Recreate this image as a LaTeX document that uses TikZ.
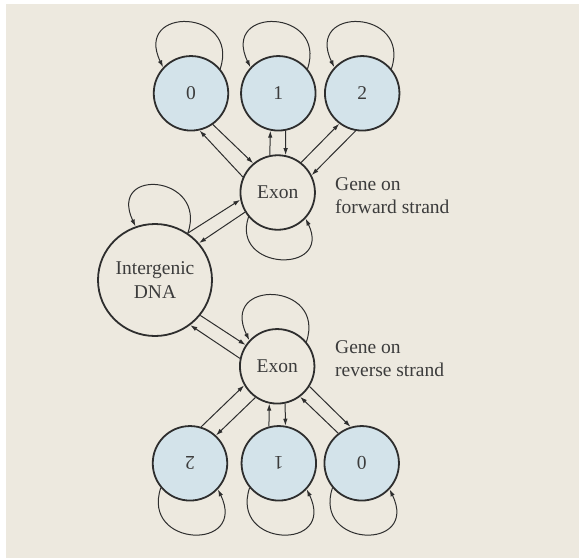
\documentclass[tikz,border=0pt]{standalone}
\usepackage{fontspec}
\setmainfont{Liberation Serif}
\usepackage{graphicx}
\usetikzlibrary{arrows.meta,shapes.geometric}
\definecolor{bgbeige}{HTML}{EDE9DF}
\definecolor{stfill}{HTML}{D3E3EA}
\definecolor{ink}{HTML}{2E2E2E}
\definecolor{txt}{HTML}{3C3C3C}
\begin{document}
\begin{tikzpicture}[x=1pt,y=-1pt,
  txtfont/.style={font=\fontsize{19.5}{23.5}\selectfont, text=txt},
  base/.style={circle, draw=ink, line width=1.8pt, minimum size=74.5pt, inner sep=0pt, txtfont},
  smallstate/.style={base, fill=stfill},
  exonnode/.style={base},
  ignode/.style={ellipse, draw=ink, line width=1.8pt, minimum width=114pt, minimum height=112pt, inner sep=0pt, align=center, txtfont},
  arr/.style={draw=ink, line width=1pt, -{Latex[length=7pt,width=4.5pt]}},
  lbl/.style={align=left, txtfont, inner sep=0pt, anchor=north west}
]
\useasboundingbox (0,0) rectangle (579,558);
\fill[bgbeige] (6,4) rectangle (579,558);

% nodes
\node[smallstate] (c0) at (191,93.3) {0};
\node[smallstate] (c1) at (278.3,93.3) {1};
\node[smallstate] (c2) at (362.2,93.3) {2};
\node[exonnode] (exf) at (277.7,192.5) {Exon};
\node[ignode] (ig) at (155,280) {Intergenic\\DNA};
\node[exonnode] (exr) at (277.2,366.3) {Exon};
\node[smallstate] (b2) at (190,463.3) {\rotatebox{180}{2}};
\node[smallstate] (b1) at (278.8,463.3) {\rotatebox{180}{1}};
\node[smallstate] (b0) at (361.7,463.3) {\rotatebox{180}{0}};

\node[lbl] (lf) at (335,177) {Gene on\\forward strand};
\node[lbl] (lr) at (335,340) {Gene on\\reverse strand};

% self loops
\draw[arr] (c0.40) .. controls +(20,-60) and +(-30,-62) .. (c0.137);
\draw[arr] (c1.40) .. controls +(20,-60) and +(-30,-62) .. (c1.137);
\draw[arr] (c2.40) .. controls +(20,-60) and +(-30,-62) .. (c2.137);
\draw[arr] (exf.220) .. controls +(-18,54) and +(27,56) .. (exf.317);
\draw[arr] (ig.55) .. controls +(20,-58) and +(-28,-60) .. (ig.110);
\draw[arr] (exr.40) .. controls +(20,-60) and +(-30,-62) .. (exr.137);
\draw[arr] (b2.220) .. controls +(-20,60) and +(30,62) .. (b2.317);
\draw[arr] (b1.220) .. controls +(-20,60) and +(30,62) .. (b1.317);
\draw[arr] (b0.220) .. controls +(-20,60) and +(30,62) .. (b0.317);

% forward strand transitions
\draw[arr] (c0.-55) -- (exf.130);
\draw[arr] (exf.156) -- (c0.-77);
\draw[arr] (exf.102) -- (c1.-102.5);
\draw[arr] (c1.-79) -- (exf.78);
\draw[arr] (exf.52) -- (c2.-127);
\draw[arr] (c2.-100) -- (exf.27);
\draw[arr] (ig.55) -- (exf.191);
\draw[arr] (exf.211) -- (ig.40);

% reverse strand transitions
\draw[arr] (ig.-38) -- (exr.146);
\draw[arr] (exr.168) -- (ig.-52);
\draw[arr] (b2.73) -- (exr.-150);
\draw[arr] (exr.-125) -- (b2.47);
\draw[arr] (b1.105) -- (exr.-102);
\draw[arr] (exr.-78) -- (b1.80.5);
\draw[arr] (exr.-32) -- (b0.107);
\draw[arr] (b0.128) -- (exr.-53);
\end{tikzpicture}
\end{document}
